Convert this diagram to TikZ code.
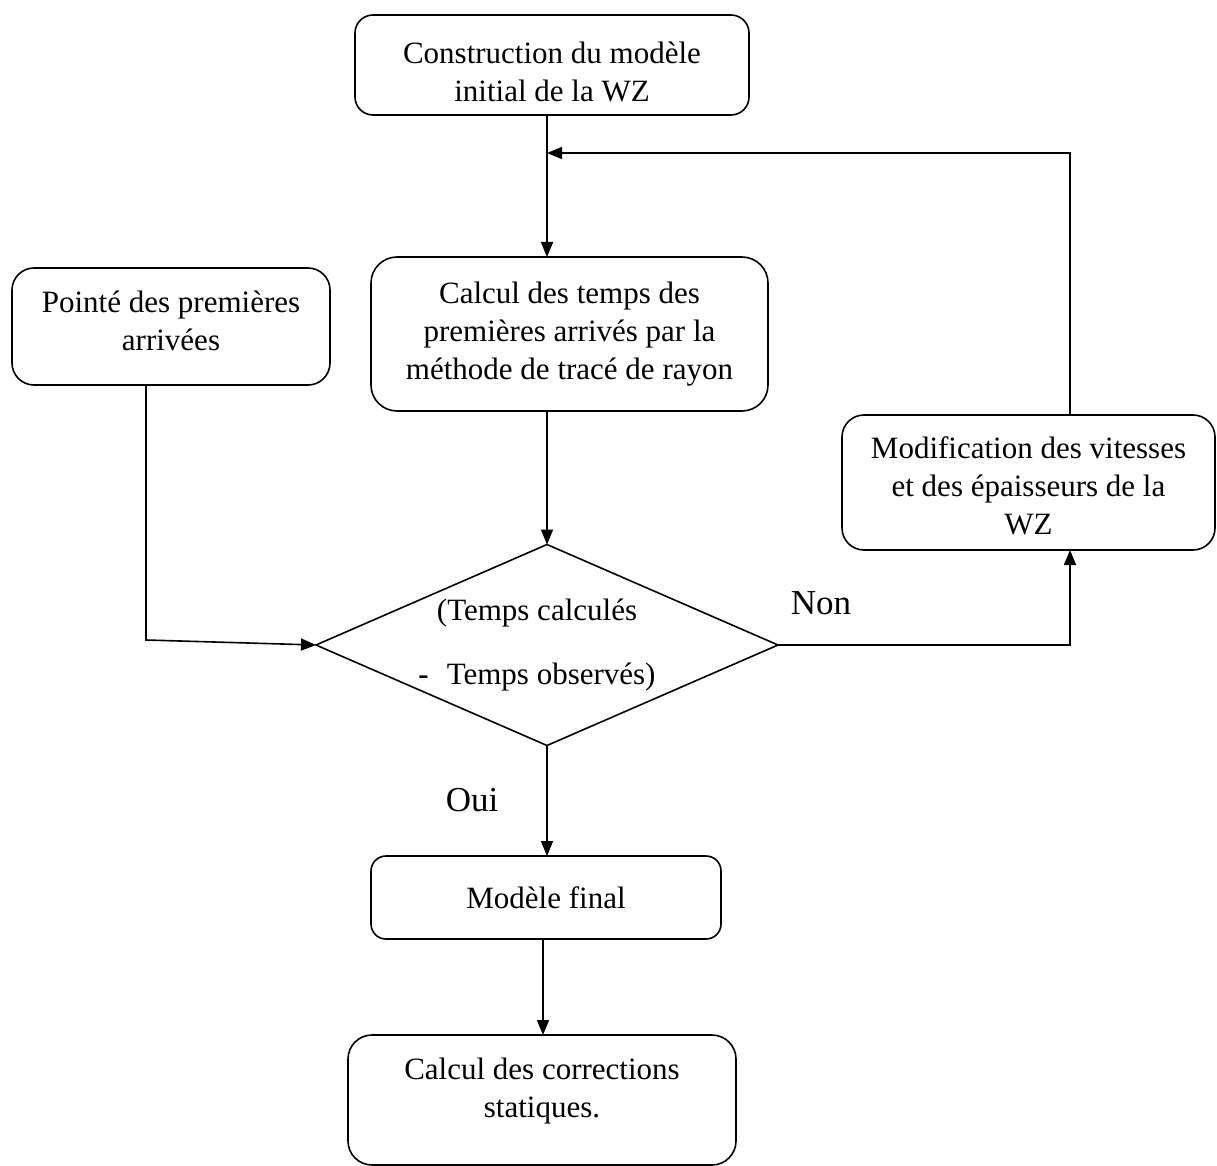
\documentclass[tikz,border=0pt]{standalone}
\usepackage{fontspec}
\setmainfont{Liberation Serif}
\usetikzlibrary{shapes.geometric,arrows.meta}

% invisible struts that move a box's text block down (top) or up (bottom)
\newcommand\padtop[1]{\rule{0pt}{#1}}
\newcommand\padbot[1]{\rule[-#1]{0pt}{#1}}

\tikzset{
  stepbox/.style={draw, rounded corners=18pt, line width=1.6pt, align=center,
    inner sep=0pt, outer sep=0pt, font=\fontsize{31}{38}\selectfont},
  decision/.style={draw, diamond, line width=1.6pt, inner sep=0pt, outer sep=0pt},
  bodytext/.style={align=center, inner sep=0pt, font=\fontsize{31}{64}\selectfont},
  answer/.style={inner sep=0pt, font=\fontsize{35}{40}\selectfont},
  arr/.style={line width=1.6pt, -{Triangle[length=15pt,width=12pt]}}
}

\begin{document}
\begin{tikzpicture}[x=1pt,y=-1pt]
\useasboundingbox (0,0) rectangle (1217,1166);

% process boxes
\node[stepbox, minimum width=394pt, minimum height=100pt] (init) at (552,65)
  {\fontsize{31}{39}\selectfont\padtop{35pt}Construction du modèle\\initial de la WZ};
\node[stepbox, rounded corners=26pt, minimum width=397pt, minimum height=154pt] (calc) at (569.5,334)
  {Calcul des temps des\\premières arrivés par la\\méthode de tracé de rayon};
\node[stepbox, rounded corners=22pt, minimum width=318pt, minimum height=117pt] (pick) at (171,326.5)
  {Pointé des premières\\arrivées\padbot{11pt}};
\node[stepbox, rounded corners=22pt, minimum width=373pt, minimum height=135pt] (modif) at (1028.5,482.5)
  {\fontsize{31}{37}\selectfont\padtop{28pt}Modification des vitesses\\et des épaisseurs de la\\WZ};
\node[stepbox, rounded corners=15pt, minimum width=350pt, minimum height=83pt] (final) at (546,897.5)
  {Modèle final};
\node[stepbox, rounded corners=24pt, minimum width=388pt, minimum height=130pt] (corr) at (542,1100)
  {\fontsize{31}{41}\selectfont Calcul des corrections\\statiques.\padbot{25pt}};

% decision diamond and its text
\node[decision, minimum width=462pt, minimum height=201pt] (dec) at (547,645) {};
\node[bodytext] (dectext) at (537,645)
  {(Temps calculés\\\textbf{-}\hspace{18pt}Temps observés)};

% branch labels
\node[answer] (non) at (821,603) {Non};
\node[answer] (oui) at (472,800) {Oui};

% routing points
\coordinate (turn) at (1070,153);
\coordinate (join) at (547,153);
\coordinate (bend) at (146,640);
\coordinate (lowx) at (543,0);

% connectors
\draw[arr] (init.south -| dec) -- (calc.north -| dec);
\draw[arr] (calc.south -| dec) -- (dec.north);
\draw[arr] (modif.north -| turn) -- (turn) -- (join);
\draw[arr] (pick.south -| bend) -- (bend) -- (dec.west);
\draw[arr] (dec.east) -- (dec.east -| turn) -- (modif.south -| turn);
\draw[arr] (dec.south) -- (final.north -| dec.south);
\draw[arr] (final.south -| lowx) -- (corr.north -| lowx);
\end{tikzpicture}
\end{document}
